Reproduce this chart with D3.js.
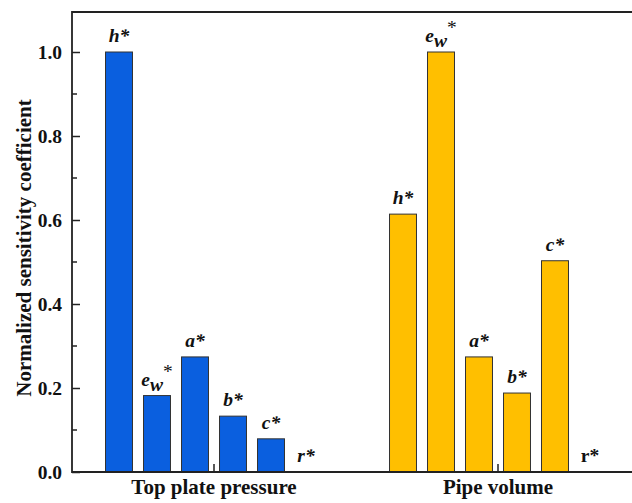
<!DOCTYPE html>
<html>
<head>
<meta charset="utf-8">
<script src="https://cdn.jsdelivr.net/npm/d3@7"></script>
<style>
  body { margin: 0; background: #fff; }
  svg { display: block; font-family: "Liberation Serif", "Times New Roman", serif; }
</style>
</head>
<body>
<svg width="632" height="503"></svg>
<script>
let groups = ["Top plate pressure", "Pipe volume"];
let params = ["h", "ew", "a", "b", "c", "r"];
let topPlate = [1.0, 0.182, 0.274, 0.133, 0.079, 0];
let pipeVolume = [0.614, 1.0, 0.274, 0.188, 0.503, 0];
let yTicks = [0, 0.2, 0.4, 0.6, 0.8, 1.0];
let colors = ["#0a5fdf", "#ffbf00"];

let svg = d3.select("svg"),
    mLeft = 72, mTop = 12, mBottom = 472;

let rows = [];
groups.forEach((g, gi) => {
  let vals = gi == 0 ? topPlate : pipeVolume;
  params.forEach((p, i) => rows.push({group: g, gi: gi, key: p, value: vals[i]}));
});

let x0 = d3.scaleBand().domain(groups).range([mLeft, 640]).padding(0);
let x1 = d3.scaleBand().domain(params).range([-114, 114]).paddingInner(0.29).paddingOuter(0.145);
let y = d3.scaleLinear().domain([0, 1]).range([mBottom, mBottom - 420]);

// bars
svg.append("g").selectAll("rect")
  .data(rows)
  .join("rect")
    .attr("x", d => x0(d.group) + x0.bandwidth() / 2 + x1(d.key))
    .attr("y", d => y(d.value))
    .attr("width", x1.bandwidth())
    .attr("height", d => y(0) - y(d.value))
    .attr("fill", d => colors[d.gi])
    .attr("stroke", "#333")
    .attr("stroke-width", 1);

// labels above bars
let lab = svg.append("g").selectAll("text")
  .data(rows)
  .join("text")
    .attr("x", d => x0(d.group) + x0.bandwidth() / 2 + x1(d.key) + x1.bandwidth() / 2 - (d.key == "r" ? 3 : 0))
    .attr("y", d => y(d.value) - 10)
    .attr("text-anchor", "middle")
    .attr("font-size", 19.5)
    .attr("font-weight", "bold")
    .attr("font-style", d => (d.key == "r" && d.gi == 1) ? "normal" : "italic")
    .attr("fill", "#111");

lab.each(function(d) {
  let t = d3.select(this);
  if (d.key == "ew") {
    t.append("tspan").text("e");
    t.append("tspan").attr("dy", 5).text("w");
    t.append("tspan").attr("dy", -13).attr("font-style", "normal").attr("font-weight", "normal").text("*");
  } else {
    t.append("tspan").text(d.key);
    t.append("tspan").text("*");
  }
});

// y axis
let yAxis = d3.axisLeft(y).tickValues(yTicks).tickSize(-8).tickPadding(10).tickFormat(d3.format(".1f"));
let ya = svg.append("g").attr("transform", `translate(${mLeft},0)`).call(yAxis);
ya.select(".domain").remove();
ya.selectAll("line").attr("stroke", "#222").attr("stroke-width", 1.5);
ya.selectAll("text")
  .attr("font-family", "Liberation Serif, serif")
  .attr("font-size", 19.5)
  .attr("font-weight", "bold")
  .attr("fill", "#111");

// minor ticks
svg.append("g").selectAll("line")
  .data([0.1, 0.3, 0.5, 0.7, 0.9])
  .join("line")
    .attr("x1", mLeft).attr("x2", mLeft + 5)
    .attr("y1", d => y(d)).attr("y2", d => y(d))
    .attr("stroke", "#222").attr("stroke-width", 1.5);

// x axis
let xAxis = d3.axisBottom(x0).tickSize(-8).tickPadding(7);
let xa = svg.append("g").attr("transform", `translate(0,${mBottom})`).call(xAxis);
xa.select(".domain").remove();
xa.selectAll("line").attr("stroke", "#222").attr("stroke-width", 1.5);
xa.selectAll("text")
  .attr("font-family", "Liberation Serif, serif")
  .attr("font-size", 21)
  .attr("font-weight", "bold")
  .attr("fill", "#111");

// frame (left, top, bottom)
svg.append("path")
  .attr("d", `M640,${mTop}H${mLeft}V${mBottom}H640`)
  .attr("fill", "none")
  .attr("stroke", "#222")
  .attr("stroke-width", 1.8);

// y title
svg.append("text")
  .attr("transform", `translate(31,248) rotate(-90)`)
  .attr("text-anchor", "middle")
  .attr("font-size", 21)
  .attr("font-weight", "bold")
  .attr("fill", "#111")
  .text("Normalized sensitivity coefficient");
</script>
</body>
</html>
